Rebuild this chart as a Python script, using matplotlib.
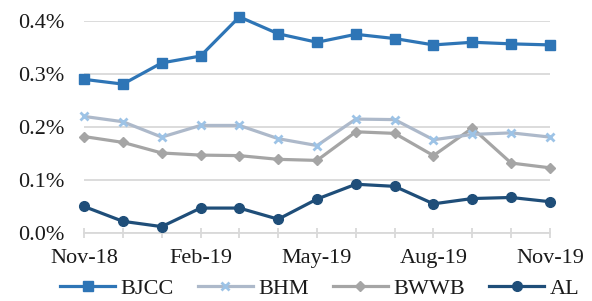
import matplotlib.pyplot as plt
import numpy as np

months = ['Nov-18', 'Dec-18', 'Jan-19', 'Feb-19', 'Mar-19', 'Apr-19', 'May-19',
          'Jun-19', 'Jul-19', 'Aug-19', 'Sep-19', 'Oct-19', 'Nov-19']
bjcc = [0.290, 0.281, 0.321, 0.334, 0.408, 0.376, 0.360, 0.375, 0.367, 0.355, 0.360, 0.357, 0.355]
bhm = [0.220, 0.210, 0.181, 0.203, 0.203, 0.178, 0.165, 0.215, 0.214, 0.176, 0.186, 0.189, 0.181]
bwwb = [0.182, 0.171, 0.151, 0.147, 0.146, 0.139, 0.137, 0.191, 0.188, 0.146, 0.198, 0.132, 0.123]
al = [0.050, 0.022, 0.012, 0.047, 0.047, 0.026, 0.064, 0.092, 0.088, 0.055, 0.065, 0.067, 0.059]

plt.rcParams['font.family'] = ['Liberation Serif', 'DejaVu Serif']

fig = plt.figure(figsize=(5.92, 3.01), dpi=100)
ax = fig.add_axes([0.142, 0.226, 0.787, 0.704])

x = np.arange(len(months))
ax.plot(x, bjcc, color='#2E75B6', lw=2.3, marker='s', ms=6.5, label='BJCC', clip_on=False, zorder=5)
ax.plot(x, bhm, color='#ADB9CA', lw=2.3, marker='x', ms=6, mew=2, mec='#9DC3E6', label='BHM', clip_on=False, zorder=4)
ax.plot(x, bwwb, color='#A5A5A5', lw=2.3, marker='D', ms=5, label='BWWB', clip_on=False, zorder=3)
ax.plot(x, al, color='#1F4E79', lw=2.3, marker='o', ms=7, label='AL', clip_on=False, zorder=6)

ax.set_xlim(0, 12)
ax.set_ylim(0, 0.4)
ax.set_yticks([0, 0.1, 0.2, 0.3, 0.4])
ax.set_yticklabels(['0.0%', '0.1%', '0.2%', '0.3%', '0.4%'])
ax.set_xticks(x)
ax.set_xticklabels([m if i % 3 == 0 else '' for i, m in enumerate(months)])
ax.grid(axis='y', color='#D9D9D9', lw=1.3)
ax.set_axisbelow(True)
for s in ['top', 'right', 'left']:
    ax.spines[s].set_visible(False)
ax.spines['bottom'].set_color('#D9D9D9')
ax.spines['bottom'].set_linewidth(1.3)
ax.tick_params(axis='y', length=0, pad=14, labelsize=16, labelcolor='#1a1a1a')
ax.tick_params(axis='x', direction='inout', length=7, width=1.3, color='#D9D9D9',
               pad=8, labelsize=16, labelcolor='#1a1a1a')

fig.legend(loc='center', bbox_to_anchor=(0.54, 0.04), ncol=4, frameon=False,
           fontsize=16, handlelength=2.45, columnspacing=1.1, handletextpad=0.25,
           labelcolor='#1a1a1a')

fig.savefig('out.png', dpi=100)
